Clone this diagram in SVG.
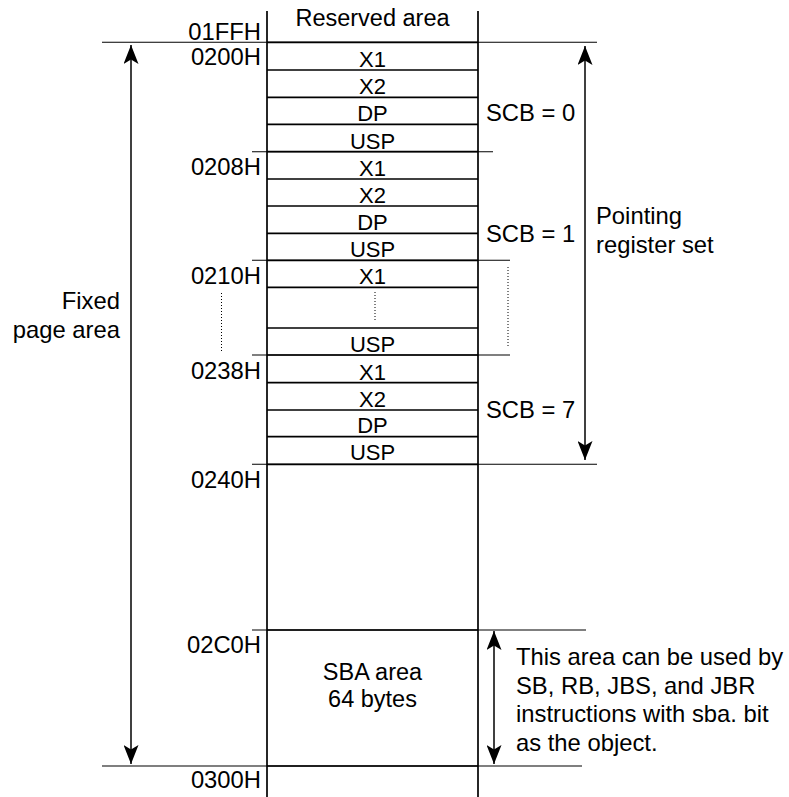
<svg xmlns="http://www.w3.org/2000/svg" width="789" height="797" viewBox="0 0 789 797">
<defs>
<style>
text{font-family:"Liberation Sans",Arial,Helvetica,sans-serif;fill:#000}
.a{font-size:23.8px;text-anchor:end}
.r{font-size:22px;text-anchor:middle}
.l{font-size:23.8px}
.c{font-size:23.5px;text-anchor:middle}
.box{stroke:#000;stroke-width:1.7;fill:none}
.ext{stroke:#000;stroke-width:1.1;fill:none}
.dot{stroke:#000;stroke-width:1;stroke-dasharray:1 2;fill:none}
.arr{stroke:#000;stroke-width:1.5;fill:none;marker-start:url(#ah);marker-end:url(#ah)}
</style>
<marker id="ah" viewBox="0 0 19 15" refX="19" refY="7.5" markerWidth="19" markerHeight="15" markerUnits="userSpaceOnUse" orient="auto-start-reverse">
<path d="M0,0 L19,7.5 L0,15 L4.5,7.5 Z" fill="#000"/>
</marker>
</defs>
<rect width="789" height="797" fill="#fff"/>

<g id="frame">
<line class="box" x1="267" y1="11" x2="267" y2="797"/>
<line class="box" x1="478" y1="11" x2="478" y2="797"/>
<line class="ext" x1="102" y1="42.3" x2="597" y2="42.3"/>
<line class="ext" x1="252" y1="151.7" x2="493" y2="151.7"/>
<line class="ext" x1="252" y1="260.3" x2="510" y2="260.3"/>
<line class="ext" x1="252" y1="355" x2="510" y2="355"/>
<line class="ext" x1="252" y1="464.3" x2="597" y2="464.3"/>
<line class="ext" x1="252" y1="630" x2="586" y2="630"/>
<line class="ext" x1="102" y1="766" x2="582" y2="766"/>
</g>

<g id="reserved">
<text class="c" x="372.5" y="26">Reserved area</text>
<text class="a" x="261" y="40">01FFH</text>
</g>

<g id="scb0">
<line class="box" x1="267" y1="42.3" x2="478" y2="42.3"/>
<line class="box" x1="267" y1="70" x2="478" y2="70"/>
<line class="box" x1="267" y1="97.3" x2="478" y2="97.3"/>
<line class="box" x1="267" y1="124.3" x2="478" y2="124.3"/>
<text class="r" x="372.5" y="67">X1</text>
<text class="r" x="372.5" y="94">X2</text>
<text class="r" x="372.5" y="121">DP</text>
<text class="r" x="372.5" y="148.5">USP</text>
<text class="a" x="261" y="65">0200H</text>
<text class="l" x="486" y="120.5">SCB = 0</text>
</g>

<g id="scb1">
<line class="box" x1="267" y1="151.7" x2="478" y2="151.7"/>
<line class="box" x1="267" y1="179" x2="478" y2="179"/>
<line class="box" x1="267" y1="206" x2="478" y2="206"/>
<line class="box" x1="267" y1="233.3" x2="478" y2="233.3"/>
<text class="r" x="372.5" y="176">X1</text>
<text class="r" x="372.5" y="203">X2</text>
<text class="r" x="372.5" y="230">DP</text>
<text class="r" x="372.5" y="257">USP</text>
<text class="a" x="261" y="175">0208H</text>
<text class="l" x="486" y="241.5">SCB = 1</text>
</g>

<g id="scb2to6">
<line class="box" x1="267" y1="260.3" x2="478" y2="260.3"/>
<line class="box" x1="267" y1="287.3" x2="478" y2="287.3"/>
<line class="box" x1="267" y1="328" x2="478" y2="328"/>
<text class="r" x="372.5" y="284">X1</text>
<line class="dot" x1="375" y1="292" x2="375" y2="322"/>
<text class="r" x="372.5" y="352">USP</text>
<text class="a" x="261" y="284">0210H</text>
<line class="dot" x1="221.5" y1="293" x2="221.5" y2="353"/>
<line class="dot" x1="508" y1="267" x2="508" y2="348"/>
</g>

<g id="scb7">
<line class="box" x1="267" y1="355" x2="478" y2="355"/>
<line class="box" x1="267" y1="382.7" x2="478" y2="382.7"/>
<line class="box" x1="267" y1="410" x2="478" y2="410"/>
<line class="box" x1="267" y1="436.7" x2="478" y2="436.7"/>
<line class="box" x1="267" y1="464.3" x2="478" y2="464.3"/>
<text class="r" x="372.5" y="380">X1</text>
<text class="r" x="372.5" y="407">X2</text>
<text class="r" x="372.5" y="433">DP</text>
<text class="r" x="372.5" y="460">USP</text>
<text class="a" x="261" y="379">0238H</text>
<text class="l" x="486" y="418">SCB = 7</text>
</g>

<g id="free">
<text class="a" x="261" y="488">0240H</text>
</g>

<g id="sba">
<line class="box" x1="267" y1="630" x2="478" y2="630"/>
<line class="box" x1="267" y1="766" x2="478" y2="766"/>
<text class="c" x="372.5" y="680">SBA area</text>
<text class="c" x="372.5" y="707">64 bytes</text>
<text class="a" x="261" y="653">02C0H</text>
<text class="a" x="261" y="788">0300H</text>
</g>

<g id="labels">
<text class="l" x="120" y="309" text-anchor="end">Fixed</text>
<text class="l" x="120" y="338" text-anchor="end">page area</text>
<text class="l" x="596" y="224">Pointing</text>
<text class="l" x="596" y="252.5">register set</text>
<text class="l" x="516" y="665">This area can be used by</text>
<text class="l" x="516" y="693.5">SB, RB, JBS, and JBR</text>
<text class="l" x="516" y="722">instructions with sba. bit</text>
<text class="l" x="516" y="750.5">as the object.</text>
</g>

<g id="connectors">
<line class="arr" x1="131" y1="45" x2="131" y2="764"/>
<line class="arr" x1="585" y1="46" x2="585" y2="460"/>
<line class="arr" x1="494" y1="631" x2="494" y2="764"/>
</g>
</svg>
